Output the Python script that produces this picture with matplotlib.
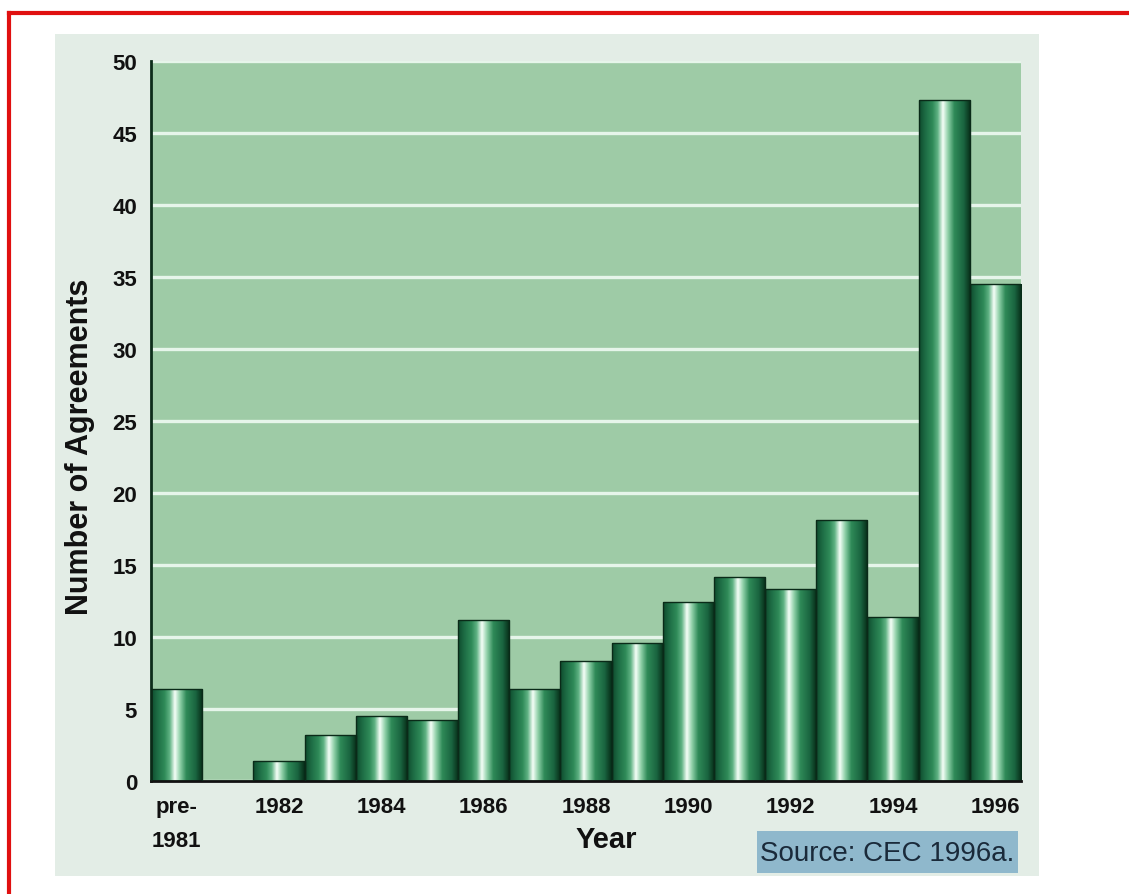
import matplotlib
matplotlib.use("Agg")
import matplotlib.pyplot as plt
import numpy as np
from matplotlib.colors import LinearSegmentedColormap
from matplotlib.patches import Rectangle

# ---- data ----
categories = ["pre-1981", "1981", "1982", "1983", "1984", "1985", "1986", "1987",
              "1988", "1989", "1990", "1991", "1992", "1993", "1994", "1995", "1996"]
values = [6.4, 0, 1.4, 3.2, 4.5, 4.25, 11.2, 6.4, 8.35, 9.6, 12.4, 14.2, 13.3,
          18.1, 11.4, 47.3, 34.5]
tick_labels = ["pre-\n1981", "", "1982", "", "1984", "", "1986", "", "1988", "",
               "1990", "", "1992", "", "1994", "", "1996"]
y_ticks = [0, 5, 10, 15, 20, 25, 30, 35, 40, 45, 50]

W, H = 1129, 895
fig = plt.figure(figsize=(W / 100, H / 100), dpi=100)
fig.patch.set_facecolor("white")

# patterned light background panel
bg = Rectangle((55 / W, 1 - 877 / H), (1039 - 55) / W, (877 - 35) / H,
               transform=fig.transFigure, facecolor="#e3ede6", edgecolor="none", zorder=-5)
fig.patches.append(bg)

# red frame lines
fig.add_artist(plt.Line2D([9 / W, 1.0], [1 - 14 / H, 1 - 14 / H], transform=fig.transFigure,
                          color="#e01010", lw=3))
fig.add_artist(plt.Line2D([9 / W, 9 / W], [0, 1 - 14 / H], transform=fig.transFigure,
                          color="#e01010", lw=3))

ax = fig.add_axes([151 / W, 1 - 782 / H, (1021 - 151) / W, (782 - 62) / H])
ax.set_zorder(2)
ax.set_facecolor("#9ecba6")

x = np.arange(len(categories))
bars = ax.bar(x, values, width=1.0, color="none", edgecolor="#0a2a18", linewidth=1.0, zorder=3)

cmap = LinearSegmentedColormap.from_list("cyl", [
    (0.0, "#0e4a2c"), (0.12, "#1d6c44"), (0.26, "#2f8a58"), (0.36, "#5fb283"),
    (0.46, "#f6fff8"), (0.56, "#8fd0a8"), (0.68, "#2f8a58"), (0.86, "#1a6540"),
    (1.0, "#062a16")])
grad = np.linspace(0, 1, 256).reshape(1, -1)
for b in bars:
    h = b.get_height()
    if h <= 0:
        continue
    x0 = b.get_x()
    im = ax.imshow(grad, cmap=cmap, aspect="auto", extent=[x0, x0 + b.get_width(), 0, h],
                   zorder=2, interpolation="bilinear")
    im.set_clip_path(b)

ax.set_xlim(-0.5, len(categories) - 0.5)
ax.set_ylim(0, 50)
ax.grid(axis="y", color="#e6f5ea", lw=2.4, zorder=1)
ax.set_axisbelow(True)

bold = ["Liberation Sans", "DejaVu Sans"]
ax.set_yticks(y_ticks)
ax.set_yticklabels([str(v) for v in y_ticks], family=bold, fontweight="bold", fontsize=16,
                   color="#111111")
ax.set_xticks(x)
ax.set_xticklabels(tick_labels, family=bold, fontweight="bold", fontsize=16, linespacing=1.8,
                   va="top", color="#111111")
ax.tick_params(axis="both", length=0)
ax.tick_params(axis="y", pad=10)
ax.tick_params(axis="x", pad=11)

for s in ["top", "right"]:
    ax.spines[s].set_visible(False)
ax.spines["left"].set_color("#0d2d1a")
ax.spines["left"].set_linewidth(2)
ax.spines["bottom"].set_color("#111111")
ax.spines["bottom"].set_linewidth(2)

fig.text(80 / W, 1 - 447 / H, "Number of Agreements", rotation=90, ha="center", va="center",
         family=bold, fontweight="bold", fontsize=22, color="#111111")
fig.text(606 / W, 1 - 840 / H, "Year", ha="center", va="center",
         family=bold, fontweight="bold", fontsize=21, color="#111111")

fig.patches.append(Rectangle((757 / W, 1 - 874 / H), (1018 - 757) / W, (874 - 832) / H,
                             transform=fig.transFigure, facecolor="#8fb8cc", edgecolor="none",
                             zorder=1))
fig.text(887 / W, 1 - 854 / H, "Source: CEC 1996a.", ha="center", va="center",
         family=["Liberation Sans", "DejaVu Sans"], fontsize=20, color="#1a2a3a")

fig.savefig("out.png", dpi=100)
